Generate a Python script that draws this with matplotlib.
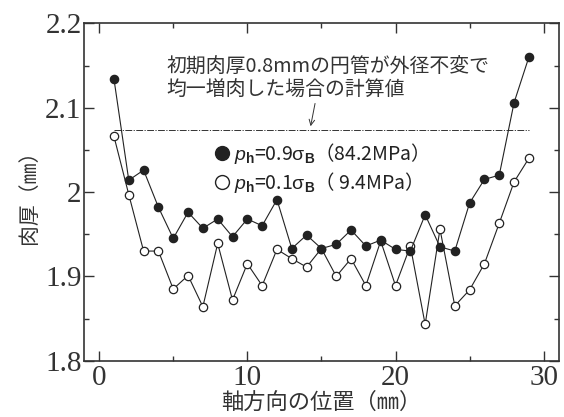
import matplotlib
matplotlib.use("Agg")
import matplotlib.pyplot as plt
from matplotlib.lines import Line2D
from matplotlib.ticker import MultipleLocator
from matplotlib.font_manager import FontProperties

plt.rcParams['font.family'] = ['Noto Sans CJK JP', 'DejaVu Sans']
plt.rcParams['mathtext.fontset'] = 'custom'
plt.rcParams['mathtext.rm'] = 'Liberation Sans'
plt.rcParams['mathtext.it'] = 'Liberation Sans:italic'
plt.rcParams['mathtext.bf'] = 'Liberation Sans:bold'

# axial position (mm)
position = list(range(1, 30))
# wall thickness (mm), ph = 0.9 sigma_B
thick_high = [2.134, 2.014, 2.026, 1.982, 1.945, 1.976, 1.957, 1.968, 1.947, 1.968,
              1.960, 1.991, 1.933, 1.949, 1.933, 1.938, 1.955, 1.936, 1.943, 1.932,
              1.930, 1.973, 1.935, 1.930, 1.987, 2.015, 2.020, 2.106, 2.160]
# wall thickness (mm), ph = 0.1 sigma_B
thick_low = [2.066, 1.997, 1.930, 1.930, 1.885, 1.901, 1.864, 1.939, 1.872, 1.915,
             1.889, 1.932, 1.921, 1.911, 1.933, 1.900, 1.921, 1.889, 1.942, 1.889,
             1.936, 1.843, 1.956, 1.865, 1.884, 1.915, 1.963, 2.012, 2.040]
# calculated uniform thickening
calc_x = [1, 29]
calc_value = 2.074

label_high = r'$p_\mathbf{h}$=0.9$\mathrm{\sigma}_\mathbf{B}$（84.2MPa）'
label_low = r'$p_\mathbf{h}$=0.1$\mathrm{\sigma}_\mathbf{B}$（ 9.4MPa）'
note = '初期肉厚0.8mmの円管が外径不変で\n均一増肉した場合の計算値'

ink = '#222222'

fig = plt.figure(figsize=(5.64, 4.17), dpi=100)
ax = fig.add_axes([0.1495, 0.135, 0.8408, 0.809])

ax.plot(position, thick_low, color=ink, lw=0.8, marker='o', ms=6,
        mfc='white', mec=ink, mew=0.9, zorder=3)
ax.plot(position, thick_high, color=ink, lw=0.8, marker='o', ms=6,
        mfc=ink, mec=ink, mew=0.9, zorder=4)
ax.plot(calc_x, [calc_value] * 2, color='#333333', lw=0.7,
        ls=(0, (7, 1.5, 1.2, 1.5)), zorder=2)

ax.text(4.55, 2.134, note, fontsize=14.3, color='#333333', va='center',
        ha='left', linespacing=1.1)
ax.annotate('', xy=(14.27, 2.078), xytext=(14.57, 2.105),
            arrowprops=dict(arrowstyle='->', color='#333333', lw=0.7,
                            shrinkA=0, shrinkB=0))

handles = [Line2D([], [], ls='none', marker='o', ms=10, mfc=ink, mec=ink),
           Line2D([], [], ls='none', marker='o', ms=10, mfc='white', mec=ink, mew=1.0)]
ax.legend(handles, [label_high, label_low], loc='upper left',
          bbox_to_anchor=(0.255, 0.68), frameon=False, handlelength=0.7,
          handletextpad=0.3, labelspacing=0.2, borderpad=0,
          prop=FontProperties(family='Noto Sans CJK JP', size=14),
          labelcolor='#222222')

ax.set_xlim(-1, 31)
ax.set_ylim(1.8, 2.2)
ax.xaxis.set_major_locator(MultipleLocator(10))
ax.xaxis.set_minor_locator(MultipleLocator(5))
ax.yaxis.set_major_locator(MultipleLocator(0.1))
ax.yaxis.set_minor_locator(MultipleLocator(0.05))
ax.set_yticks([1.8, 1.9, 2.0, 2.1, 2.2], ['1.8', '1.9', '2', '2.1', '2.2'])
ax.tick_params(which='both', direction='in', top=True, right=True,
               color='#333333', width=1)
ax.tick_params(which='major', length=7)
ax.tick_params(which='minor', length=3.5)
ax.tick_params(axis='x', pad=3)
ax.tick_params(axis='y', pad=2)
for lab in ax.get_xticklabels() + ax.get_yticklabels():
    lab.set_fontfamily('Liberation Serif')
    lab.set_fontsize(21)
    lab.set_color('#333333')
for sp in ax.spines.values():
    sp.set_linewidth(1.2)
    sp.set_color('#333333')

ax.set_xlabel('軸方向の位置（㎜）', fontsize=16, color='#333333', labelpad=0)
ax.set_ylabel('肉厚（㎜）', fontsize=15, color='#333333', labelpad=4)

fig.savefig('out.png', dpi=100)
